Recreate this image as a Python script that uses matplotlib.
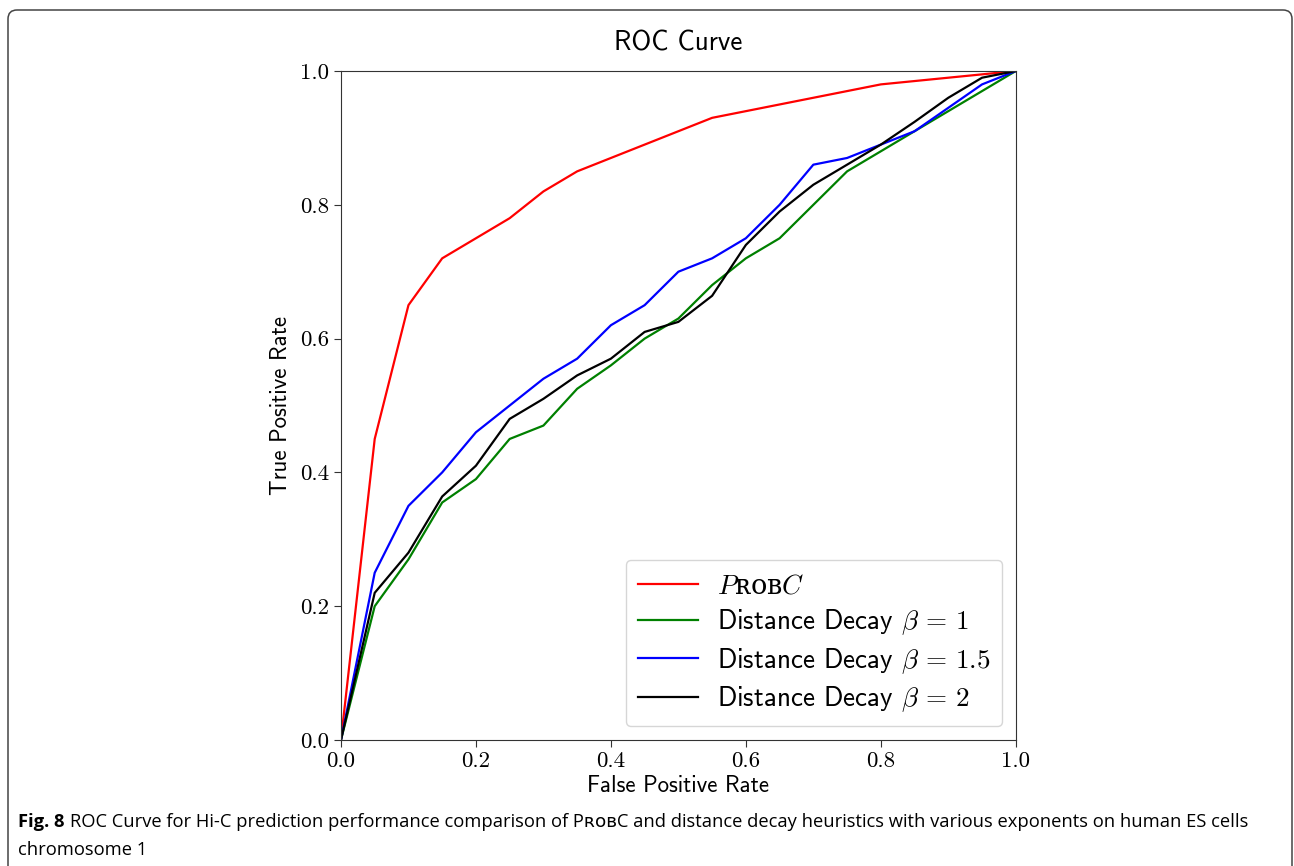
import matplotlib.pyplot as plt
from matplotlib.patches import FancyBboxPatch
from matplotlib.transforms import IdentityTransform

# ROC points, sampled every 0.05 of false positive rate
fpr = [0.0, 0.05, 0.1, 0.15, 0.2, 0.25, 0.3, 0.35, 0.4, 0.45, 0.5,
       0.55, 0.6, 0.65, 0.7, 0.75, 0.8, 0.85, 0.9, 0.95, 1.0]
tpr_probc = [0.0, 0.45, 0.65, 0.72, 0.75, 0.78, 0.82, 0.85, 0.87, 0.89, 0.91,
             0.93, 0.94, 0.95, 0.96, 0.97, 0.98, 0.985, 0.99, 0.995, 1.0]
tpr_b1 = [0.0, 0.2, 0.27, 0.355, 0.39, 0.45, 0.47, 0.525, 0.56, 0.6, 0.63,
          0.68, 0.72, 0.75, 0.8, 0.85, 0.88, 0.91, 0.94, 0.97, 1.0]
tpr_b15 = [0.0, 0.25, 0.35, 0.40, 0.46, 0.5, 0.54, 0.57, 0.62, 0.65, 0.70,
           0.72, 0.75, 0.80, 0.86, 0.87, 0.89, 0.91, 0.945, 0.98, 1.0]
tpr_b2 = [0.0, 0.22, 0.28, 0.364, 0.41, 0.48, 0.51, 0.545, 0.57, 0.61, 0.625,
          0.664, 0.74, 0.79, 0.83, 0.86, 0.89, 0.924, 0.96, 0.99, 1.0]

labels = ["PROBC", r"Distance Decay $\beta\,=\,1$",
          r"Distance Decay $\beta\,=\,1.5$", r"Distance Decay $\beta\,=\,2$"]
colors = ["red", "green", "blue", "black"]

plt.rcParams["mathtext.fontset"] = "cm"
plt.rcParams["axes.unicode_minus"] = False

fig = plt.figure(figsize=(12.94, 8.66), dpi=100)

#  rounded frame around the figure, in pixels (runs off the bottom edge)
frame = FancyBboxPatch((8, -30), 1284, 886, boxstyle="round,pad=0,rounding_size=9",
                       transform=IdentityTransform(), fill=False,
                       edgecolor="#444444", linewidth=1.1)
fig.patches.append(frame)

ax = fig.add_axes([0.2635, 0.1455, 0.5215, 0.7725])
for y, c, lab in zip([tpr_probc, tpr_b1, tpr_b15, tpr_b2], colors, labels):
    ax.plot(fpr, y, color=c, linewidth=1.6, label=lab)

ax.set_xlim(0, 1)
ax.set_ylim(0, 1)
ax.set_xticks([0.0, 0.2, 0.4, 0.6, 0.8, 1.0])
ax.set_yticks([0.0, 0.2, 0.4, 0.6, 0.8, 1.0])
for t in ax.get_xticklabels() + ax.get_yticklabels():
    t.set_fontfamily("cmr10")
    t.set_fontsize(16.5)
ax.tick_params(length=5, color="#333333")
for s in ax.spines.values():
    s.set_color("#333333")

ax.set_title("ROC Curve", fontfamily="cmss10", fontsize=19.5, pad=15)
ax.set_xlabel("False Positive Rate", fontfamily="cmss10", fontsize=16.5, labelpad=3)
ax.set_ylabel("True Positive Rate", fontfamily="cmss10", fontsize=16.5, labelpad=6)

leg = ax.legend(loc="lower right", prop={"family": "cmss10", "size": 19.5},
                handlelength=2.2, handletextpad=0.7, borderpad=0.45, labelspacing=0.32)
#  small caps name of the method
first = leg.get_texts()[0]
first.set_text("$P$ʀᴏʙ$C$")
first.set_fontfamily("DejaVu Serif")

#  caption: bold figure number, then the text right after it
cap_font = ["Open Sans", "DejaVu Sans"]
fignum = fig.text(0.014, 0.0508, "Fig. 8", fontsize=13.2, fontweight="bold",
                  family=cap_font, va="center")
bb = fignum.get_window_extent(fig.canvas.get_renderer())
fig.text((bb.x1 + 5) / 1294, 0.0508,
         "ROC Curve for Hi-C prediction performance comparison of PʀᴏʙC and distance decay "
         "heuristics with various exponents on human ES cells",
         fontsize=13.2, family=cap_font, va="center")
fig.text(0.014, 0.0185, "chromosome 1", fontsize=13.2, family=cap_font, va="center")

plt.savefig("out.png", dpi=100)
